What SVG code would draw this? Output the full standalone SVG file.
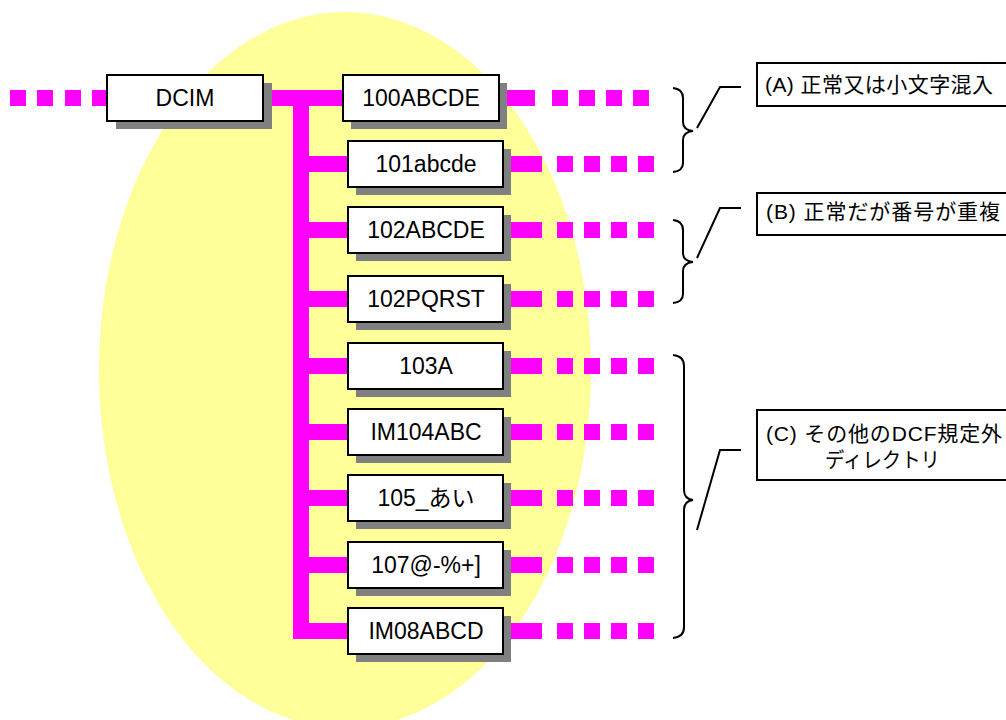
<svg xmlns="http://www.w3.org/2000/svg" width="1006" height="720" viewBox="0 0 1006 720">
<style>
.box{fill:#fff;stroke:#000;stroke-width:2}
.shd{fill:#808080}
.mg{fill:#ff00ff}
.nt{font-family:"Liberation Sans","Noto Sans CJK JP",sans-serif;font-size:23px;text-anchor:middle;fill:#000}
.lt{font-family:"Liberation Sans","Noto Sans CJK JP",sans-serif;font-size:21px;fill:#000}
.ln{fill:none;stroke:#000;stroke-width:2}
</style>
<defs>
<g id="dashes"><rect x="0" y="-8" width="16" height="16"/><rect x="27" y="-8" width="16" height="16"/><rect x="54" y="-8" width="16" height="16"/><rect x="81" y="-8" width="16" height="16"/></g>
</defs>
<ellipse cx="345" cy="370" rx="246" ry="358" fill="#ffff99"/>
<g id="connectors" class="mg">
<rect x="10" y="90" width="16" height="16"/><rect x="37" y="90" width="16" height="16"/><rect x="65" y="90" width="16" height="16"/><rect x="92" y="90" width="16" height="16"/>
<rect x="263" y="90" width="80" height="16"/>
<rect x="293" y="98" width="16" height="541"/>
<rect x="301" y="156" width="47" height="16"/>
<rect x="301" y="222" width="47" height="16"/>
<rect x="301" y="291" width="47" height="16"/>
<rect x="301" y="358" width="47" height="16"/>
<rect x="301" y="424" width="47" height="16"/>
<rect x="301" y="490" width="47" height="16"/>
<rect x="301" y="557" width="47" height="16"/>
<rect x="293" y="623" width="55" height="16"/>
<rect x="499" y="90" width="36" height="16"/><use href="#dashes" x="552" y="98"/>
<rect x="503" y="156" width="39" height="16"/><use href="#dashes" x="557" y="164"/>
<rect x="503" y="222" width="39" height="16"/><use href="#dashes" x="557" y="230"/>
<rect x="503" y="291" width="39" height="16"/><use href="#dashes" x="557" y="299"/>
<rect x="503" y="358" width="39" height="16"/><use href="#dashes" x="557" y="366"/>
<rect x="503" y="424" width="39" height="16"/><use href="#dashes" x="557" y="432"/>
<rect x="503" y="490" width="39" height="16"/><use href="#dashes" x="557" y="498"/>
<rect x="503" y="557" width="39" height="16"/><use href="#dashes" x="557" y="565"/>
<rect x="503" y="623" width="39" height="16"/><use href="#dashes" x="557" y="631"/>
</g>
<g id="n-dcim"><rect class="shd" x="116" y="83" width="156" height="46"/><rect class="box" x="107" y="75" width="156" height="46"/><text class="nt" x="185" y="106">DCIM</text></g>
<g id="n-100"><rect class="shd" x="351" y="83" width="156" height="46"/><rect class="box" x="343" y="75" width="156" height="46"/><text class="nt" x="421" y="106">100ABCDE</text></g>
<g id="n-101"><rect class="shd" x="356" y="149" width="155" height="46"/><rect class="box" x="348" y="141" width="155" height="46"/><text class="nt" x="426" y="172">101abcde</text></g>
<g id="n-102a"><rect class="shd" x="356" y="215" width="155" height="46"/><rect class="box" x="348" y="207" width="155" height="46"/><text class="nt" x="426" y="238">102ABCDE</text></g>
<g id="n-102p"><rect class="shd" x="356" y="284" width="155" height="46"/><rect class="box" x="348" y="276" width="155" height="46"/><text class="nt" x="426" y="307">102PQRST</text></g>
<g id="n-103"><rect class="shd" x="356" y="351" width="155" height="46"/><rect class="box" x="348" y="343" width="155" height="46"/><text class="nt" x="426" y="374">103A</text></g>
<g id="n-104"><rect class="shd" x="356" y="417" width="155" height="46"/><rect class="box" x="348" y="409" width="155" height="46"/><text class="nt" x="426" y="440">IM104ABC</text></g>
<g id="n-105"><rect class="shd" x="356" y="483" width="155" height="46"/><rect class="box" x="348" y="475" width="155" height="46"/><text class="nt" x="426" y="506">105_あい</text></g>
<g id="n-107"><rect class="shd" x="356" y="550" width="155" height="46"/><rect class="box" x="348" y="542" width="155" height="46"/><text class="nt" x="426" y="573">107@-%+]</text></g>
<g id="n-im08"><rect class="shd" x="356" y="616" width="155" height="46"/><rect class="box" x="348" y="608" width="155" height="46"/><text class="nt" x="426" y="639">IM08ABCD</text></g>
<g id="brace-a"><path class="ln" d="M673,88 Q683,89 683,98 L683,122 Q683,130 693,131 Q683,132 683,140 L683,163 Q683,171 673,172"/><path class="ln" d="M697,128 L720,87 L741,87"/></g>
<g id="brace-b"><path class="ln" d="M673,220 Q683,221 683,230 L683,253 Q683,261 693,262 Q683,263 683,271 L683,294 Q683,302 673,303"/><path class="ln" d="M697,258 L720,208 L741,208"/></g>
<g id="brace-c"><path class="ln" d="M673,355 Q684,356 684,366 L684,490 Q684,499 693,500 Q684,501 684,510 L684,627 Q684,637 673,638"/><path class="ln" d="M697,530 L720,450 L741,450"/></g>
<g id="label-a"><rect class="box" x="757" y="63" width="256" height="43"/><text class="lt" x="765" y="92" textLength="228" lengthAdjust="spacing">(A) 正常又は小文字混入</text></g>
<g id="label-b"><rect class="box" x="757" y="193" width="256" height="42"/><text class="lt" x="766" y="219" textLength="234" lengthAdjust="spacing">(B) 正常だが番号が重複</text></g>
<g id="label-c"><rect class="box" x="757" y="410" width="256" height="70"/><text class="lt" x="766" y="441" textLength="236" lengthAdjust="spacing">(C) その他のDCF規定外</text><text class="lt" x="825" y="467" font-size="20" textLength="115" lengthAdjust="spacingAndGlyphs">ディレクトリ</text></g>
</svg>
